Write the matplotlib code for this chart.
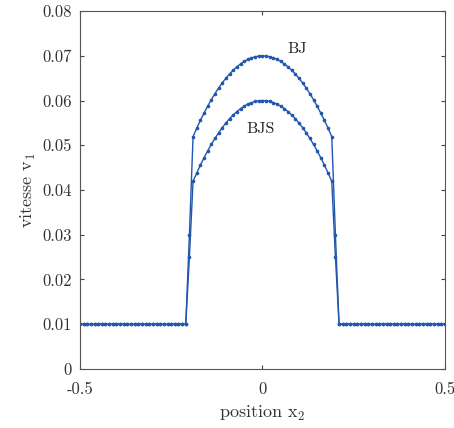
import matplotlib
matplotlib.use("Agg")
import matplotlib.pyplot as plt

plt.rcParams['font.family'] = ['cmr10', 'DejaVu Serif']
plt.rcParams['mathtext.fontset'] = 'cm'
plt.rcParams['axes.unicode_minus'] = False
plt.rcParams['axes.formatter.use_mathtext'] = False

# grid x2 = -0.5 .. 0.5, step 0.01
x2 = [round(-0.5 + 0.01 * i, 2) for i in range(101)]

flat_left = [0.01] * 30       # x2 = -0.50 .. -0.21
flat_right = [0.01] * 30      # x2 = 0.21 .. 0.50

bj_core = [0.05195, 0.0538, 0.05555, 0.0572, 0.05875, 0.0602, 0.06155, 0.0628,
           0.06395, 0.065, 0.06595, 0.0668, 0.06755, 0.0682, 0.06875, 0.0692,
           0.06955, 0.0698, 0.06995, 0.07, 0.06995, 0.0698, 0.06955, 0.0692,
           0.06875, 0.0682, 0.06755, 0.0668, 0.06595, 0.065, 0.06395, 0.0628,
           0.06155, 0.0602, 0.05875, 0.0572, 0.05555, 0.0538, 0.05195]
bjs_core = [0.04195, 0.0438, 0.04555, 0.0472, 0.04875, 0.0502, 0.05155, 0.0528,
            0.05395, 0.055, 0.05595, 0.0568, 0.05755, 0.0582, 0.05875, 0.0592,
            0.05955, 0.0598, 0.05995, 0.06, 0.05995, 0.0598, 0.05955, 0.0592,
            0.05875, 0.0582, 0.05755, 0.0568, 0.05595, 0.055, 0.05395, 0.0528,
            0.05155, 0.0502, 0.04875, 0.0472, 0.04555, 0.0438, 0.04195]

v_bj = flat_left + [0.03] + bj_core + [0.03] + flat_right
v_bjs = flat_left + [0.025] + bjs_core + [0.025] + flat_right

xticks = [-0.5, 0, 0.5]
xtick_labels = ['-0.5', '0', '0.5']
yticks = [0, 0.01, 0.02, 0.03, 0.04, 0.05, 0.06, 0.07, 0.08]
ytick_labels = ['0', '0.01', '0.02', '0.03', '0.04', '0.05', '0.06', '0.07', '0.08']

blue = '#2157ad'
fig = plt.figure(figsize=(4.54, 4.28), dpi=100)
ax = fig.add_axes([0.176, 0.138, 0.804, 0.836])
for v in (v_bj, v_bjs):
  ax.plot(x2, v, '-', color=blue, lw=1.0, marker='.', ms=3.2)

ax.text(0.096, 0.0715, 'BJ', fontsize=11.5, ha='center', va='center', color='#222222')
ax.text(-0.005, 0.0536, 'BJS', fontsize=11.5, ha='center', va='center', color='#222222')

ax.set_xlim(-0.5, 0.5)
ax.set_ylim(0, 0.08)
ax.set_xticks(xticks); ax.set_xticklabels(xtick_labels)
ax.set_yticks(yticks); ax.set_yticklabels(ytick_labels)
ax.tick_params(direction='in', top=True, right=True, length=3, width=0.8,
               labelsize=12, colors='#444444', labelcolor='#333333')
ax.tick_params(axis='x', pad=9)
ax.tick_params(axis='y', pad=6)
for s in ax.spines.values():
  s.set_color('#555555')
  s.set_linewidth(0.8)
ax.set_xlabel(r'position x$_{2}$', fontsize=13, color='#333333', labelpad=5)
ax.set_ylabel(r'vitesse v$_{1}$', fontsize=13, color='#333333', labelpad=3)

fig.savefig('out.png', dpi=100)
